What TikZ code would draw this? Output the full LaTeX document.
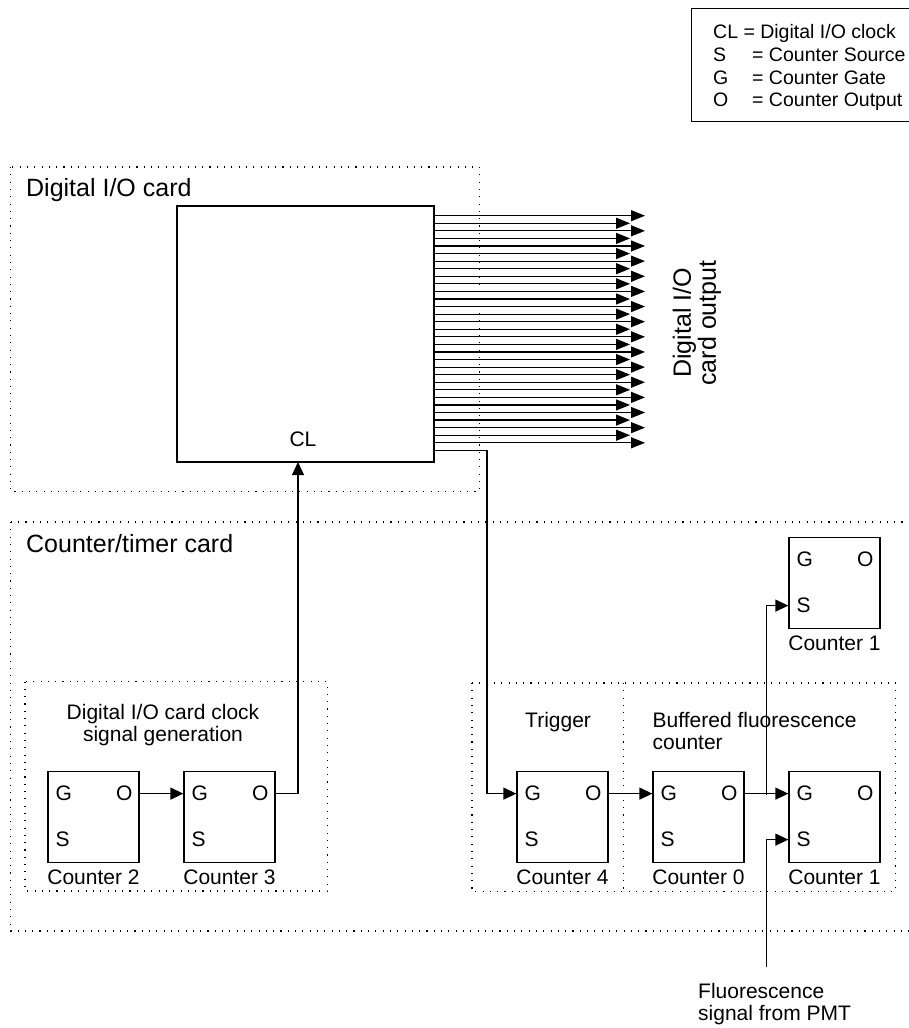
\documentclass[tikz,border=0pt]{standalone}
\usepackage{fontspec}
\setmainfont{Liberation Sans}
\usetikzlibrary{arrows.meta,positioning,calc}

\newcommand{\fsmall}{\fontsize{19.5}{22.8}\selectfont}
\newcommand{\fnorm}{\fontsize{21}{22.5}\selectfont}
\newcommand{\fbig}{\fontsize{25}{25}\selectfont}

\begin{document}
\begin{tikzpicture}[x=1pt,y=-1pt,
    card/.style={draw, line width=1.1pt, dash pattern=on 1.1pt off 6.2pt},
    ctr/.style={draw, line width=1.3pt, minimum width=91pt, minimum height=91pt, inner sep=0pt},
    pin/.style={inner sep=0pt, font=\fnorm},
    txt/.style={inner sep=0pt, font=\fnorm, align=left},
    sig/.style={line width=1.3pt, -{Triangle[length=13pt,width=12pt]}},
    bus/.style={line width=1.2pt, -{Triangle[length=14pt,width=11pt]}}]
		\useasboundingbox (0,0) rectangle (909,1028);
		\clip (0,0) rectangle (909,1028);
		
		% legend
		\draw[line width=1pt] (691.7,8.3) rectangle (960,121.7);
		\node[txt, font=\fsmall, anchor=base west] (lg-cl) at (713,38.3) {CL = Digital I/O clock};
		\node[txt, font=\fsmall, anchor=base west] (lg-s) at (713,61.7) {S};
		\node[txt, font=\fsmall, anchor=base west] (lg-sx) at (752,61.7) {= Counter Source};
		\node[txt, font=\fsmall, anchor=base west] (lg-g) at (713,84) {G};
		\node[txt, font=\fsmall, anchor=base west] (lg-gx) at (752,84) {= Counter Gate};
		\node[txt, font=\fsmall, anchor=base west] (lg-o) at (713,106.7) {O};
		\node[txt, font=\fsmall, anchor=base west] (lg-ox) at (752,106.7) {= Counter Output};
		
		% digital I/O card
		\draw[card] (10.5,167) rectangle (479.5,491.5);
		\node[txt, font=\fbig, anchor=base west] (dio-title) at (26,196.7) {Digital I/O card};
		\node[draw, line width=1.3pt, minimum width=257pt, minimum height=256pt] (dio) at (305.5,334) {};
		\node[txt, anchor=base] (cl) at (303,446.7) {CL};
		\coordinate (clin) at (298,462);
		\coordinate (trg) at (434,450.3);
		\foreach \i in {0,...,30}{
			\pgfmathsetmacro{\yy}{215.7+7.57*\i}
			\pgfmathsetmacro{\xx}{ifthenelse(mod(\i,2)==0,645,630)}
			\draw[bus] (dio.east |- 0,\yy) -- (\xx,\yy);
		}
		\node[rotate=90, align=center, inner sep=0pt, font=\fbig] (dio-out) at (697,323) {Digital I/O\\card output};
		
		% counter/timer card
		\draw[card] (10.5,522) rectangle (960,931);
		\node[txt, font=\fbig, anchor=base west] (ct-title) at (26,552) {Counter/timer card};
		\draw[card] (25,681.5) rectangle (327.5,891);  % clock generation
		\draw[card] (472,683) rectangle (895.5,891.5);  % trigger + buffered
		\draw[card] (623.3,683) -- (623.3,891.5);
		\node[txt, align=center, anchor=north] (gen-txt) at (163,704) {Digital I/O card clock\\signal generation};
		\node[txt, anchor=base west] (trig-txt) at (525,727.3) {Trigger};
		\node[txt, anchor=north west] (buf-txt) at (652.5,712) {Buffered fluorescence\\counter};
		
		\node[ctr] (c2) at (93.5,817) {};
		\node[ctr] (c3) at (229.5,817) {};
		\node[ctr] (c4) at (562.5,817) {};
		\node[ctr] (c0) at (698.5,817) {};
		\node[ctr] (c1b) at (834.5,817) {};
		\node[ctr] (c1t) at (834.5,583) {};
		\foreach \n in {c2,c3,c4,c0,c1b,c1t}{
			\node[pin, anchor=base west] (\n-g) at ($(\n.north west)+(8,30)$) {G};
			\node[pin, anchor=base west] (\n-s) at ($(\n.north west)+(8,76)$) {S};
			\node[pin, anchor=base east] (\n-o) at ($(\n.north east)+(-7,30)$) {O};
		}
		\node[txt, below=6pt of c2] (c2-name) {Counter 2};
		\node[txt, below=6pt of c3] (c3-name) {Counter 3};
		\node[txt, below=6pt of c4] (c4-name) {Counter 4};
		\node[txt, below=6pt of c0] (c0-name) {Counter 0};
		\node[txt, below=6pt of c1b] (c1b-name) {Counter 1};
		\node[txt, below=6pt of c1t] (c1t-name) {Counter 1};
		
		% signals
		\draw[sig] (c2.east |- c2-o) -- (c3.west |- c3-g);
		\draw[sig] (c3.east |- c3-o) -| (clin);
		\draw[sig] (trg) -- ++(53,0) |- (c4.west |- c4-g);
		\draw[sig] (c4.east |- c4-o) -- (c0.west |- c0-g);
		\draw[sig] (c0.east |- c0-o) -- (c1b.west |- c1b-g);
		\coordinate (split) at (766.5,795);
		\draw[sig] (split) |- (c1t.west |- c1t-s);
		\coordinate (pmt) at (766.5,967);
		\draw[sig] (pmt) |- (c1b.west |- c1b-s);
		\node[txt, anchor=north west] (pmt-txt) at (698,983) {Fluorescence\\signal from PMT};
		
	\end{tikzpicture}
\end{document}
